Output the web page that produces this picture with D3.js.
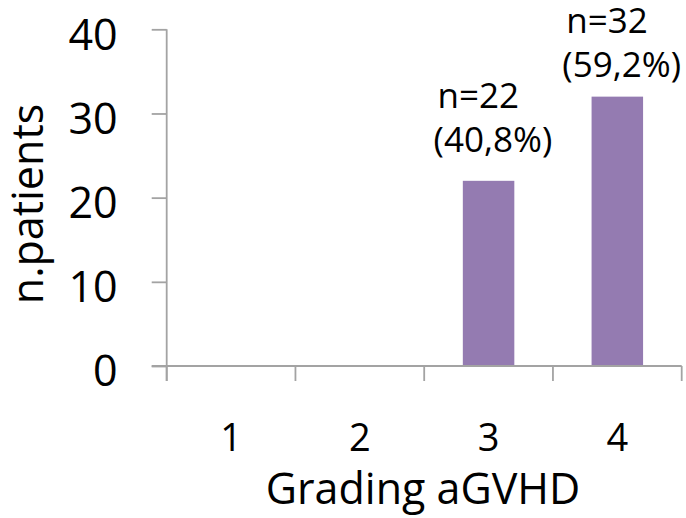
<!DOCTYPE html>
<html>
<head>
<meta charset="utf-8">
<script src="https://cdn.jsdelivr.net/npm/d3@7"></script>
<style>
  html, body { margin: 0; padding: 0; background: #fff; }
  svg { display: block; }
  text { font-family: "Open Sans", sans-serif; fill: #000; }
</style>
</head>
<body>
<svg id="chart" width="686" height="518"></svg>
<script>
// Patients per acute GVHD grade
const categories = ["1", "2", "3", "4"];
const patients = [0, 0, 22, 32];
const labelCounts = ["", "", "n=22", "n=32"];
const labelPercents = ["", "", "(40,8%)", "(59,2%)"];
const yTicks = [0, 10, 20, 30, 40];
const xTitle = "Grading aGVHD";
const yTitle = "n.patients";

const svg = d3.select("#chart");
const plotLeft = 166.7, plotRight = 681.7, plotTop = 29.3, plotBottom = 366;
const tickLen = 15;
const axisColor = "#a3a3a3";
const barColor = "#947bb1";
const font = "'Open Sans', sans-serif";

const y = d3.scaleLinear().domain([0, 40]).range([plotBottom, plotTop]);
const x = d3.scaleBand().domain(categories).range([plotLeft, plotRight])
  .paddingInner(0.6).paddingOuter(0.3);

// Bars
svg.append("g").selectAll("rect")
  .data(categories.map((c, i) => ({ c, v: patients[i] })).filter(d => d.v > 0))
  .join("rect")
  .attr("x", d => x(d.c))
  .attr("width", x.bandwidth())
  .attr("y", d => y(d.v))
  .attr("height", d => y(0) - y(d.v))
  .attr("fill", barColor);

// Y axis
const yAxis = svg.append("g")
  .attr("transform", `translate(${plotLeft},0)`)
  .call(d3.axisLeft(y).tickValues(yTicks).tickSize(tickLen).tickPadding(34));
yAxis.select(".domain").remove();
yAxis.selectAll(".tick line").attr("stroke", axisColor).attr("stroke-width", 1.8);
yAxis.selectAll(".tick text")
  .attr("dy", "0.46em")
  .style("font-size", "43px")
  .style("font-family", font);
svg.append("line")
  .attr("x1", plotLeft).attr("x2", plotLeft)
  .attr("y1", plotTop).attr("y2", plotBottom + tickLen)
  .attr("stroke", axisColor).attr("stroke-width", 1.8);

// X axis baseline and category boundary ticks
svg.append("line")
  .attr("x1", plotLeft - tickLen).attr("x2", plotRight)
  .attr("y1", plotBottom).attr("y2", plotBottom)
  .attr("stroke", axisColor).attr("stroke-width", 1.8);
const boundaries = categories.map(c => x(c) - x.step() * x.paddingOuter())
  .concat([plotRight]);
svg.append("g").selectAll("line")
  .data(boundaries)
  .join("line")
  .attr("x1", d => d).attr("x2", d => d)
  .attr("y1", plotBottom).attr("y2", plotBottom + tickLen)
  .attr("stroke", axisColor).attr("stroke-width", 1.8);

const xAxis = svg.append("g")
  .attr("transform", `translate(0,${plotBottom})`)
  .call(d3.axisBottom(x).tickSize(0).tickPadding(0));
xAxis.select(".domain").remove();
xAxis.selectAll(".tick text")
  .attr("y", 85).attr("dy", 0)
  .style("font-size", "38px")
  .style("font-family", font);

// Data labels: two left-aligned lines above each bar, kept inside the chart
const labelData = categories.map((c, i) => ({ c, v: patients[i], n: labelCounts[i], p: labelPercents[i] }))
  .filter(d => d.n);
const lineGap = 44;
const firstBaseline = d => Math.max(y(d.v) - 73, 33);
const lbl = svg.append("g").attr("font-size", 35).attr("text-anchor", "start");
lbl.selectAll("text.n")
  .data(labelData)
  .join("text").attr("class", "n")
  .attr("x", d => x(d.c) + x.bandwidth() / 2 - 51)
  .attr("y", d => firstBaseline(d))
  .text(d => d.n);
lbl.selectAll("text.p")
  .data(labelData)
  .join("text").attr("class", "p")
  .attr("x", d => x(d.c) + x.bandwidth() / 2 - 55)
  .attr("y", d => firstBaseline(d) + lineGap)
  .text(d => d.p);

// Axis titles
svg.append("text")
  .attr("x", 423).attr("y", 504)
  .attr("text-anchor", "middle")
  .attr("font-size", 43)
  .text(xTitle);
svg.append("text")
  .attr("transform", "translate(43,204) rotate(-90)")
  .attr("text-anchor", "middle")
  .attr("font-size", 43)
  .text(yTitle);
</script>
</body>
</html>
